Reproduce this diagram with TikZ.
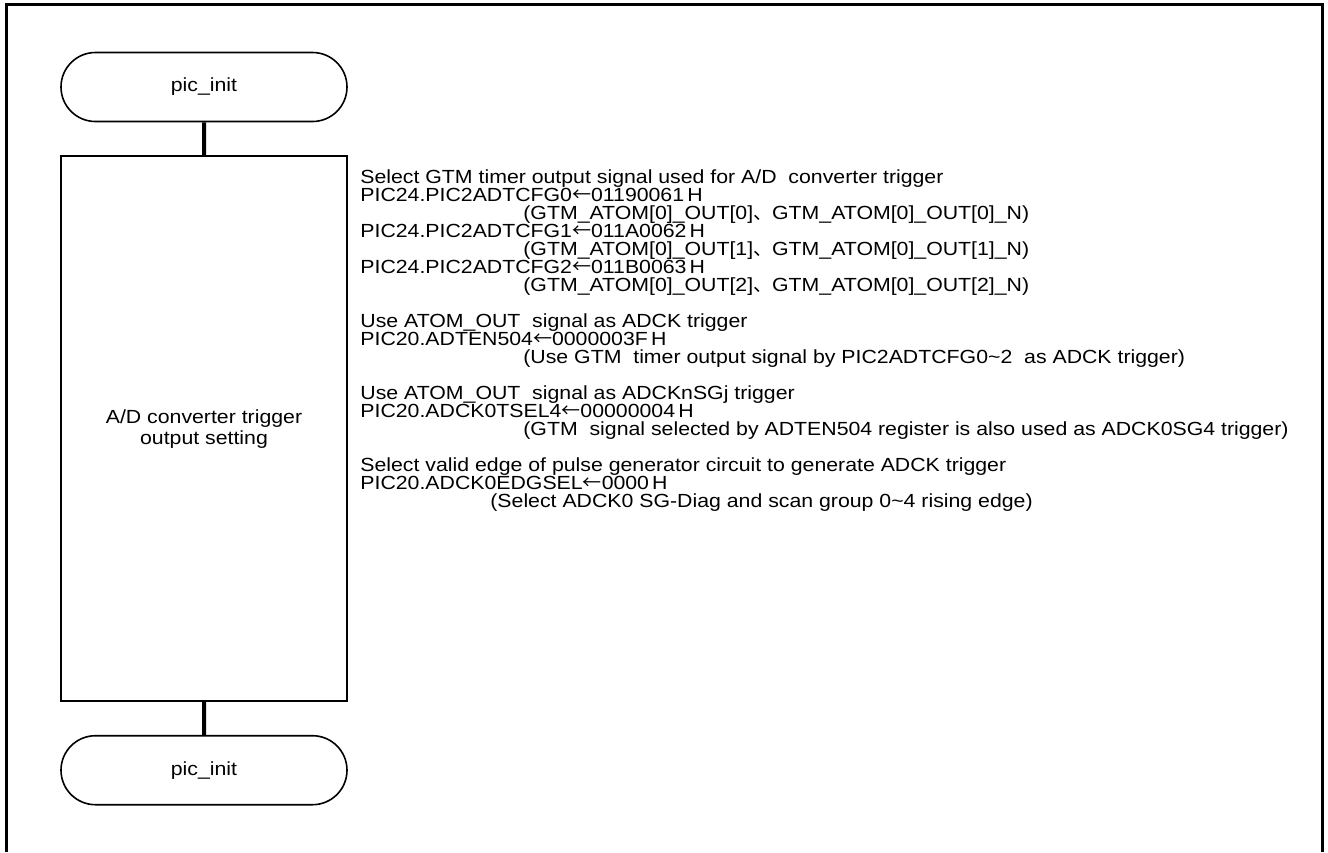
\documentclass[tikz,border=0pt]{standalone}
\usepackage{fontspec}
\setmainfont{Liberation Sans}[FakeStretch=1.12]
\newfontfamily\cjkfont{Noto Sans CJK JP}
\usetikzlibrary{shapes.misc, positioning}

\newcommand{\sep}{{\cjkfont 、}}
\newcommand{\setto}{{\cjkfont ←}}
\newcommand{\indentnote}{\hspace*{81.5pt}}

\begin{document}
\begin{tikzpicture}[
    x=0.5pt, y=-0.5pt,
    node distance=16.5pt,
    every node/.style={font=\fontsize{9.5}{9}\selectfont},
    terminal/.style={draw, rounded rectangle, line width=0.8pt, minimum width=143pt,
                minimum height=34.5pt, inner sep=0pt},
    process/.style={draw, line width=0.8pt, minimum width=143pt, minimum height=272.5pt,
                align=center, font=\fontsize{9.5}{10.5}\selectfont},
    flowline/.style={line width=2pt},
    frame/.style={line width=1.5pt},
    note/.style={align=left, inner sep=0pt, anchor=north west}
]
\useasboundingbox (0,0) rectangle (1328,852);
\draw[frame] (6,852) -- (6,4) -- (1322,4) -- (1322,852);

\node[terminal] (start) at (204,87) {pic\_init};
\node[process, below=of start] (setting) {A/D converter trigger\\output setting};
\node[terminal, below=of setting] (finish) {pic\_init};

\draw[flowline] (start) -- (setting);
\draw[flowline] (setting) -- (finish);

\node[note] (notes) at (360,169)
    {Select GTM timer output signal used for A/D\ \ converter trigger\\
     PIC24.PIC2ADTCFG0\setto 01190061\,H\\
     \indentnote(GTM\_ATOM[0]\_OUT[0]\sep GTM\_ATOM[0]\_OUT[0]\_N)\\
     PIC24.PIC2ADTCFG1\setto 011A0062\,H\\
     \indentnote(GTM\_ATOM[0]\_OUT[1]\sep GTM\_ATOM[0]\_OUT[1]\_N)\\
     PIC24.PIC2ADTCFG2\setto 011B0063\,H\\
     \indentnote(GTM\_ATOM[0]\_OUT[2]\sep GTM\_ATOM[0]\_OUT[2]\_N)\\[9pt]
     Use ATOM\_OUT\ \ signal as ADCK trigger\\
     PIC20.ADTEN504\setto 0000003F\,H\\
     \indentnote(Use GTM\ \ timer output signal by PIC2ADTCFG0\textasciitilde2\ \ as ADCK trigger)\\[9pt]
     Use ATOM\_OUT\ \ signal as ADCKnSGj trigger\\
     PIC20.ADCK0TSEL4\setto 00000004\,H\\
     \indentnote(GTM\ \ signal selected by ADTEN504 register is also used as ADCK0SG4 trigger)\\[9pt]
     Select valid edge of pulse generator circuit to generate ADCK trigger\\
     PIC20.ADCK0EDGSEL\setto 0000\,H\\
     \hspace*{65pt}(Select ADCK0 SG-Diag and scan group 0\textasciitilde4 rising edge)};
\end{tikzpicture}
\end{document}
